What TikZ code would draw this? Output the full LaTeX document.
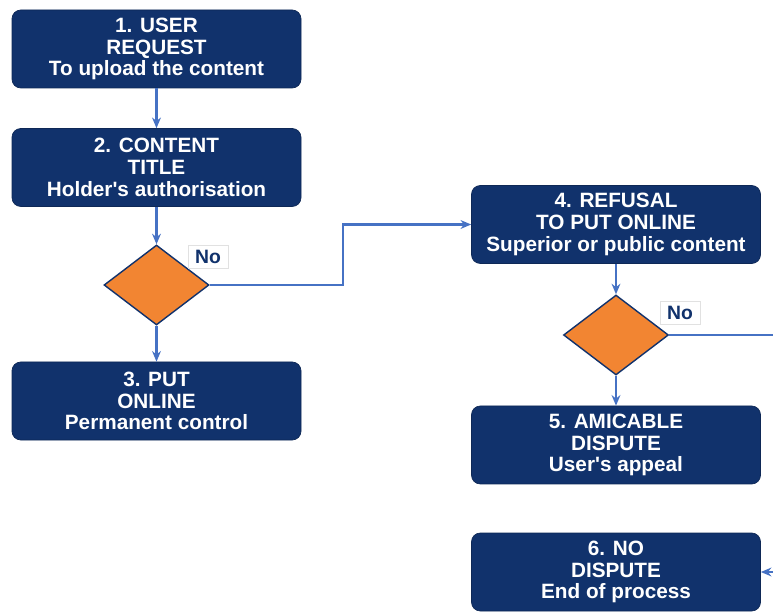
\documentclass[tikz,border=0pt]{standalone}
\usepackage{fontspec}
\setmainfont{Liberation Sans}
\usepackage{tikz}
\usetikzlibrary{arrows.meta, shapes.geometric}
\definecolor{boxnavy}{RGB}{17, 50, 108}
\definecolor{decorange}{RGB}{242, 133, 50}
\definecolor{linkblue}{RGB}{70, 114, 196}
\definecolor{labelgray}{RGB}{225, 225, 225}

\tikzset{
  stepbox/.style={draw=boxnavy!80!black, fill=boxnavy, rounded corners=5pt,
    minimum width=5.78cm, minimum height=1.56cm, align=center, text=white,
    font=\bfseries\fontsize{11.8}{12.4}\selectfont, inner sep=2pt},
  decision/.style={diamond, draw=boxnavy, fill=decorange, line width=0.8pt,
    minimum width=2.1cm, minimum height=1.6cm, inner sep=0pt},
  nolabel/.style={draw=labelgray, fill=white, text=boxnavy,
    font=\bfseries\fontsize{11}{12}\selectfont, minimum width=0.8cm,
    minimum height=0.45cm, inner sep=1pt},
  link/.style={linkblue, line width=1.4pt},
  linkarrow/.style={link, -{Stealth[length=6pt, width=5pt]}}
}

\begin{document}
\begin{tikzpicture}
        \clip (0, 0) rectangle (15.46, -12.24);
        \fill[white] (0, 0) rectangle (15.46, -12.24);

        % left column
        \node[stepbox] (request) at (3.13, -0.98) {1. USER\\REQUEST\\To upload the content};
        \node[stepbox] (title) at (3.13, -3.35) {2. CONTENT\\TITLE\\Holder\textquotesingle s authorisation};
        \node[decision] (check1) at (3.13, -5.7) {};
        \node[stepbox] (online) at (3.13, -8.02) {3. PUT\\ONLINE\\Permanent control};
        \node[nolabel] (no1) at (4.16, -5.14) {No};

        % right column
        \node[stepbox] (refusal) at (12.32, -4.49) {4. REFUSAL\\TO PUT ONLINE\\Superior or public content};
        \node[decision] (check2) at (12.32, -6.7) {};
        \node[stepbox] (amicable) at (12.32, -8.9) {5. AMICABLE\\DISPUTE\\User\textquotesingle s appeal};
        \node[stepbox] (nodispute) at (12.32, -11.44) {6. NO\\DISPUTE\\End of process};
        \node[nolabel] (no2) at (13.6, -6.26) {No};

        % connectors
        \coordinate (bend) at (6.86, -5.7);
        \coordinate (outside) at (15.9, -6.7);

        \draw[linkarrow] (request) -- (title);
        \draw[linkarrow] (title) -- (check1);
        \draw[linkarrow] (check1) -- (online);
        \draw[linkarrow] (check1.east) -- (bend) |- (refusal.west);
        \draw[linkarrow] (refusal) -- (check2);
        \draw[linkarrow] (check2) -- (amicable);
        \draw[linkarrow] (check2.east) -- (outside) |- (nodispute.east);

    \end{tikzpicture}
\end{document}
